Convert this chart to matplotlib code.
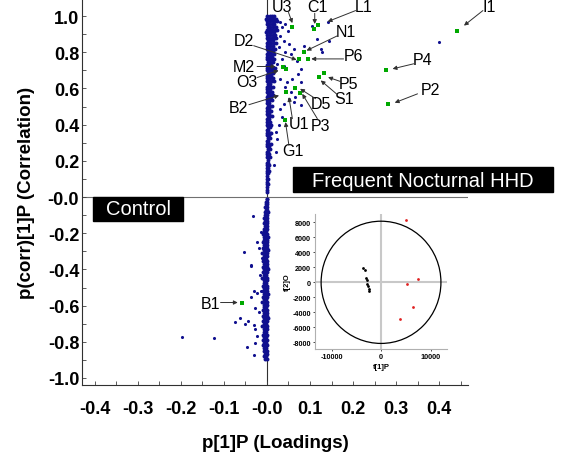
"""
OPLS-DA S-plot (loadings vs correlation) with a score-plot inset.
Frequent nocturnal HHD vs control.
"""

import matplotlib
matplotlib.use("Agg")
import matplotlib.pyplot as plt
from matplotlib.patches import Ellipse, Rectangle

plt.rcParams["font.family"] = ["Liberation Sans", "DejaVu Sans"]
plt.rcParams["axes.unicode_minus"] = False

# --- dense band of variables near p[1] = 0 (rows: p(corr), p[1] values) ---
band_pos_rows = [
    (1.000, [0.000, 0.006, 0.012, 0.017]),
    (0.985, [-0.002, 0.004, 0.010, 0.015, 0.021]),
    (0.970, [0.001, 0.007, 0.013, 0.019, 0.024]),
    (0.955, [-0.001, 0.005, 0.011, 0.017]),
    (0.940, [0.002, 0.008, 0.014, 0.020]),
    (0.925, [0.000, 0.006, 0.012, 0.018, 0.023]),
    (0.910, [-0.002, 0.004, 0.010, 0.016]),
    (0.895, [0.001, 0.007, 0.013, 0.019]),
    (0.880, [0.000, 0.005, 0.011, 0.017, 0.022]),
    (0.865, [0.002, 0.008, 0.014]),
    (0.850, [-0.001, 0.004, 0.010, 0.016, 0.020]),
    (0.835, [0.001, 0.007, 0.013]),
    (0.820, [0.000, 0.005, 0.011, 0.018]),
    (0.805, [0.002, 0.008, 0.014]),
    (0.790, [-0.001, 0.004, 0.010, 0.016]),
    (0.775, [0.001, 0.007, 0.012]),
    (0.760, [0.000, 0.005, 0.011, 0.017]),
    (0.745, [0.002, 0.008, 0.014]),
    (0.730, [-0.001, 0.004, 0.010]),
    (0.715, [0.001, 0.007, 0.013, 0.018]),
    (0.700, [0.000, 0.005, 0.011]),
    (0.685, [0.002, 0.008, 0.015]),
    (0.670, [-0.001, 0.004, 0.010]),
    (0.655, [0.001, 0.007, 0.013]),
    (0.640, [0.000, 0.005, 0.011, 0.016]),
    (0.625, [0.002, 0.008]),
    (0.610, [-0.001, 0.004, 0.010, 0.014]),
    (0.595, [0.001, 0.007]),
    (0.580, [0.000, 0.005, 0.011]),
    (0.565, [0.002, 0.008, 0.013]),
    (0.550, [-0.001, 0.004, 0.009]),
    (0.535, [0.001, 0.006, 0.012]),
    (0.520, [0.000, 0.005]),
    (0.505, [0.002, 0.008, 0.012]),
    (0.490, [-0.001, 0.004]),
    (0.475, [0.001, 0.006, 0.010]),
    (0.460, [0.000, 0.004]),
    (0.445, [0.002, 0.007, 0.011]),
    (0.430, [-0.001, 0.004]),
    (0.415, [0.001, 0.006]),
    (0.400, [0.000, 0.004, 0.009]),
    (0.385, [0.002, 0.006]),
    (0.370, [-0.001, 0.003]),
    (0.355, [0.001, 0.006, 0.010]),
    (0.340, [0.000, 0.004]),
    (0.325, [0.002, 0.007]),
    (0.310, [-0.001, 0.003]),
    (0.295, [0.001, 0.005, 0.009]),
    (0.280, [0.000, 0.004]),
    (0.265, [0.002, 0.006]),
    (0.250, [-0.001, 0.003]),
    (0.235, [0.001, 0.005]),
    (0.220, [0.000, 0.003, 0.008]),
    (0.205, [0.002]),
    (0.190, [-0.001, 0.003]),
    (0.175, [0.001, 0.005]),
    (0.160, [0.000, 0.002]),
    (0.145, [0.001, 0.004]),
    (0.130, [-0.001, 0.002]),
    (0.115, [0.001]),
    (0.100, [0.000, 0.003]),
    (0.085, [0.001]),
    (0.070, [-0.001, 0.002]),
    (0.055, [0.000]),
    (0.040, [0.001]),
    (0.025, [0.000]),
]

band_neg_rows = [
    (-0.010, [-0.001, 0.001]),
    (-0.025, [-0.003, 0.000]),
    (-0.040, [-0.002, 0.001]),
    (-0.055, [-0.004, 0.000]),
    (-0.070, [-0.003, 0.001]),
    (-0.085, [-0.005, -0.001, 0.002]),
    (-0.100, [-0.004, 0.000]),
    (-0.115, [-0.006, -0.002, 0.001]),
    (-0.130, [-0.004, 0.000]),
    (-0.145, [-0.007, -0.003, 0.001]),
    (-0.160, [-0.005, -0.001]),
    (-0.175, [-0.008, -0.003, 0.001]),
    (-0.190, [-0.006, -0.002]),
    (-0.205, [-0.009, -0.004, 0.000]),
    (-0.220, [-0.006, -0.002, 0.002]),
    (-0.235, [-0.008, -0.004, 0.000]),
    (-0.250, [-0.010, -0.005, -0.001]),
    (-0.265, [-0.007, -0.003, 0.001]),
    (-0.280, [-0.009, -0.004, 0.000]),
    (-0.295, [-0.006, -0.002, 0.002]),
    (-0.310, [-0.011, -0.005, -0.001]),
    (-0.325, [-0.008, -0.003, 0.001]),
    (-0.340, [-0.006, -0.002]),
    (-0.355, [-0.009, -0.004, 0.000]),
    (-0.370, [-0.007, -0.003, 0.001]),
    (-0.385, [-0.010, -0.005, -0.001]),
    (-0.400, [-0.007, -0.002, 0.002]),
    (-0.415, [-0.009, -0.004, 0.000]),
    (-0.430, [-0.006, -0.002]),
    (-0.445, [-0.011, -0.005, -0.001]),
    (-0.460, [-0.008, -0.003, 0.001]),
    (-0.475, [-0.006, -0.002]),
    (-0.490, [-0.009, -0.004, 0.000]),
    (-0.505, [-0.007, -0.003, 0.001]),
    (-0.520, [-0.010, -0.005, -0.001]),
    (-0.535, [-0.007, -0.002, 0.002]),
    (-0.550, [-0.009, -0.004, 0.000]),
    (-0.565, [-0.006, -0.002]),
    (-0.580, [-0.011, -0.005, -0.001]),
    (-0.595, [-0.008, -0.003, 0.001]),
    (-0.610, [-0.006, -0.002]),
    (-0.625, [-0.009, -0.004, 0.000]),
    (-0.640, [-0.007, -0.003, 0.001]),
    (-0.655, [-0.010, -0.005, -0.001]),
    (-0.670, [-0.007, -0.002, 0.002]),
    (-0.685, [-0.009, -0.004, 0.000]),
    (-0.700, [-0.006, -0.002]),
    (-0.715, [-0.011, -0.005, -0.001]),
    (-0.730, [-0.008, -0.003, 0.001]),
    (-0.745, [-0.006, -0.002]),
    (-0.760, [-0.009, -0.004, 0.000]),
    (-0.775, [-0.007, -0.003]),
    (-0.790, [-0.010, -0.005, -0.001]),
    (-0.805, [-0.007, -0.002]),
    (-0.820, [-0.009, -0.004, 0.000]),
    (-0.835, [-0.006, -0.002]),
    (-0.850, [-0.008, -0.003, 0.001]),
    (-0.865, [-0.005, -0.001]),
    (-0.880, [-0.007, -0.003]),
    (-0.895, [-0.004, -0.001]),
]

# --- scattered (unlabelled) variables ---
scatter_x = [
    0.030, 0.035, 0.043, 0.049, 0.031, 0.039, 0.051, 0.028, 0.043, 0.055,
    0.035, 0.063, 0.078, 0.072, 0.059, 0.078, 0.047, 0.055, 0.066, 0.051,
    0.125, 0.129, 0.117, 0.105, 0.144, 0.039, 0.024, 0.031, 0.043, 0.070,
    0.086, 0.141, 0.399, 0.035, 0.028, 0.030, 0.024, 0.020, 0.022, 0.039,
    0.063, 0.078, 0.017,
    -0.032, -0.054, -0.024, -0.019, -0.037, -0.015, -0.011, -0.017, -0.015,
    -0.038, -0.031, -0.037, -0.027, -0.019, -0.062, -0.075, -0.052, -0.045,
    -0.031, -0.027, -0.023, -0.029, -0.046, -0.031, -0.198, -0.124, -0.023,
]
scatter_y = [
    0.965, 0.938, 0.956, 0.919, 0.891, 0.864, 0.846, 0.828, 0.800, 0.791,
    0.763, 0.818, 0.708, 0.680, 0.653, 0.635, 0.635, 0.580, 0.552, 0.543,
    0.818, 0.800, 0.873, 0.947, 0.864, 0.726, 0.736, 0.653, 0.607, 0.754,
    0.836, 0.969, 0.858, 0.442, 0.396, 0.488, 0.322, 0.249, 0.359, 0.515,
    0.525, 0.506, 0.175,
    -0.106, -0.306, -0.247, -0.284, -0.379, -0.192, -0.339, -0.431, -0.520,
    -0.376, -0.519, -0.555, -0.614, -0.633, -0.666, -0.693, -0.702, -0.684,
    -0.706, -0.730, -0.770, -0.807, -0.831, -0.872, -0.774, -0.780, -0.532,
]

# --- highlighted (green) variables ---
green_x = [0.059, 0.110, 0.118, 0.087, 0.075, 0.095, 0.038, 0.045, 0.132,
           0.122, 0.066, 0.076, 0.045, 0.041, 0.442, 0.277, 0.282, -0.057]
green_y = [0.940, 0.930, 0.950, 0.800, 0.760, 0.763, 0.721, 0.707, 0.683,
           0.661, 0.600, 0.575, 0.579, 0.423, 0.919, 0.699, 0.515, -0.587]

# label, text position, arrow start, arrow tip (data units)
labels = [
    ("U3", (0.035, 1.052), (0.050, 1.020), (0.059, 0.961)),
    ("C1", (0.117, 1.050), (0.111, 1.015), (0.111, 0.956)),
    ("L1", (0.225, 1.050), (0.206, 1.030), (0.141, 0.969)),
    ("N1", (0.183, 0.917), (0.164, 0.891), (0.092, 0.809)),
    ("D2", (-0.054, 0.864), (-0.031, 0.836), (0.069, 0.758)),
    ("P6", (0.202, 0.780), (0.178, 0.763), (0.103, 0.763)),
    ("M2", (-0.055, 0.719), (-0.023, 0.721), (0.020, 0.721)),
    ("O3", (-0.046, 0.636), (-0.023, 0.660), (0.027, 0.699)),
    ("P5", (0.190, 0.625), (0.171, 0.638), (0.142, 0.662)),
    ("S1", (0.179, 0.543), (0.164, 0.565), (0.125, 0.644)),
    ("D5", (0.125, 0.515), (0.113, 0.543), (0.077, 0.598)),
    ("P3", (0.125, 0.396), (0.117, 0.433), (0.082, 0.570)),
    ("B2", (-0.066, 0.497), (-0.042, 0.510), (0.028, 0.561)),
    ("U1", (0.074, 0.405), (0.059, 0.433), (0.051, 0.552)),
    ("G1", (0.061, 0.258), (0.051, 0.285), (0.043, 0.414)),
    ("I1", (0.517, 1.055), (0.502, 1.030), (0.458, 0.947)),
    ("P4", (0.362, 0.759), (0.341, 0.736), (0.292, 0.708)),
    ("P2", (0.381, 0.594), (0.350, 0.570), (0.297, 0.521)),
    ("B1", (-0.132, -0.587), (-0.108, -0.583), (-0.068, -0.583)),
]

x_ticks = [-0.4, -0.3, -0.2, -0.1, 0.0, 0.1, 0.2, 0.3, 0.4]
x_tick_labels = ["-0.4", "-0.3", "-0.2", "-0.1", "-0.0", "0.1", "0.2", "0.3", "0.4"]
y_ticks = [-1.0, -0.8, -0.6, -0.4, -0.2, 0.0, 0.2, 0.4, 0.6, 0.8, 1.0]
y_tick_labels = ["-1.0", "-0.8", "-0.6", "-0.4", "-0.2", "-0.0",
                 "0.2", "0.4", "0.6", "0.8", "1.0"]

# --- inset score plot ---
control_t1 = [-3580, -3170, -3090, -2890, -2770, -2630, -2480, -2360]
control_t2 = [1870, 1680, 530, 350, -270, -530, -890, -1120]
hhd_t1 = [5050, 5250, 7540, 6400, 3780]
hhd_t2 = [8350, -230, 440, -3330, -4890]
inset_x_ticks = [-10000, 0, 10000]
inset_y_ticks = [-8000, -6000, -4000, -2000, 0, 2000, 4000, 6000, 8000]

BLUE = "#10108f"
GREEN = "#00a800"


def band_points(rows):
    xs, ys = [], []
    for y, row in rows:
        for x in row:
            xs.append(x)
            ys.append(y)
    return xs, ys


fig = plt.figure(figsize=(5.67, 4.56), dpi=100)
ax = fig.add_axes([0.1446, 0.1535, 0.6808, 0.8465])

ax.axvline(0, color="#303030", lw=0.8, zorder=1)
ax.axhline(0, color="#707070", lw=0.8, zorder=1)

for rows in (band_pos_rows, band_neg_rows):
    bx, by = band_points(rows)
    ax.scatter(bx, by, s=8, color=BLUE, linewidths=0, zorder=2)
ax.scatter(scatter_x, scatter_y, s=5, color=BLUE, linewidths=0, zorder=2)
ax.scatter(green_x, green_y, s=10, marker="s", color=GREEN, linewidths=0, zorder=3)

for text, tpos, start, tip in labels:
    ax.text(tpos[0], tpos[1], text, fontsize=11.5, ha="center", va="center",
            clip_on=False)
    ax.annotate("", xy=tip, xytext=start,
                arrowprops=dict(arrowstyle="-|>", color="#303030", lw=0.7,
                                mutation_scale=6, shrinkA=0, shrinkB=0))

ax.set_xlim(-0.4302, 0.4674)
ax.set_ylim(-1.0387, 1.094)
ax.set_xticks(x_ticks)
ax.set_xticklabels(x_tick_labels)
ax.set_yticks(y_ticks)
ax.set_yticklabels(y_tick_labels)
ax.set_xticks([-0.35, -0.25, -0.15, -0.05, 0.05, 0.15, 0.25, 0.35, 0.45], minor=True)
ax.set_yticks([-0.9, -0.7, -0.5, -0.3, -0.1, 0.1, 0.3, 0.5, 0.7, 0.9], minor=True)
ax.tick_params(which="both", direction="in", length=3, width=0.6, color="#404040")
ax.tick_params(axis="x", labelsize=13, pad=11)
ax.tick_params(axis="y", labelsize=13, pad=2)
for lab in ax.get_xticklabels() + ax.get_yticklabels():
    lab.set_fontweight("bold")
for side in ("top", "right"):
    ax.spines[side].set_visible(False)
for side in ("left", "bottom"):
    ax.spines[side].set_linewidth(0.8)
    ax.spines[side].set_color("#303030")

ax.set_xlabel("p[1]P (Loadings)", fontsize=13.5, fontweight="bold", labelpad=12)
ax.set_ylabel("p(corr)[1]P (Correlation)", fontsize=13.5, fontweight="bold", labelpad=9)

# group banners
fig.patches.append(Rectangle((0.5168, 0.5768), 0.4586, 0.0548, color="black",
                             transform=fig.transFigure, zorder=5))
fig.text(0.746, 0.603, "Frequent Nocturnal HHD", color="white", fontsize=14.5,
         ha="center", va="center", zorder=6)
fig.patches.append(Rectangle((0.1635, 0.5138), 0.160, 0.0513, color="black",
                             transform=fig.transFigure, zorder=5))
fig.text(0.2434, 0.5395, "Control", color="white", fontsize=14.5,
         ha="center", va="center", zorder=6)

# inset
ins = fig.add_axes([0.5556, 0.2325, 0.2328, 0.296])
ins.patch.set_alpha(0)
ins.axvline(0, color="#c8c8c8", lw=1.5, zorder=1)
ins.axhline(0, color="#c8c8c8", lw=1.5, zorder=1)
ins.add_patch(Ellipse((0, 0), 2 * 12100, 2 * 8150, fill=False, color="black", lw=0.9))
ins.scatter(control_t1, control_t2, s=4, color="black", linewidths=0, zorder=3)
ins.scatter(hhd_t1, hhd_t2, s=4, color="#e02020", linewidths=0, zorder=3)
ins.set_xlim(-13330, 13330)
ins.set_ylim(-8890, 9110)
ins.set_xticks(inset_x_ticks)
ins.set_yticks(inset_y_ticks)
ins.tick_params(labelsize=5.2, length=1.5, width=0.5, pad=1.5)
for lab in ins.get_xticklabels() + ins.get_yticklabels():
    lab.set_fontweight("bold")
for side in ("top", "right"):
    ins.spines[side].set_visible(False)
for side in ("left", "bottom"):
    ins.spines[side].set_color("#b0b0b0")
    ins.spines[side].set_linewidth(0.8)
ins.set_xlabel("t[1]P", fontsize=5.5, fontweight="bold", labelpad=2)
ins.set_ylabel("t[2]O", fontsize=5.5, fontweight="bold", labelpad=1)

fig.savefig("out.png", dpi=100)
